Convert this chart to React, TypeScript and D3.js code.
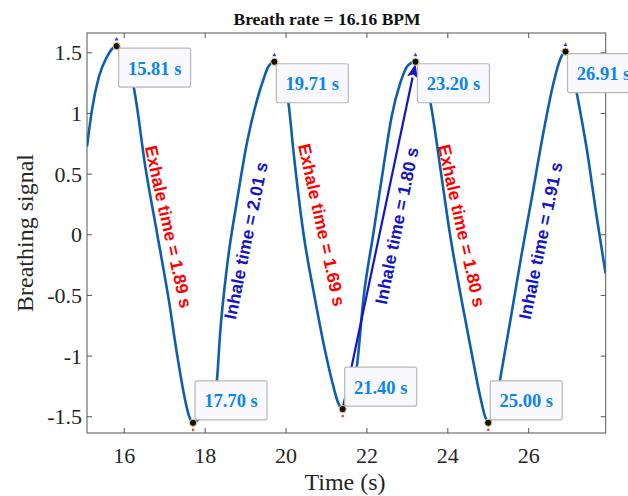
import React from "react";
import * as d3 from "d3";

// ---- data ----
const times = [
  15.078, 15.2, 15.37, 15.57, 15.81, 15.95, 16.08, 16.23, 16.52, 16.81, 17.1, 17.3, 17.47, 17.59, 17.7,
  17.9, 18.1, 18.22, 18.29, 18.37, 18.54, 18.79, 19.03, 19.28, 19.44, 19.56, 19.71,
  19.85, 19.96, 20.06, 20.18, 20.43, 20.72, 20.96, 21.17, 21.29, 21.4,
  21.55, 21.66, 21.75, 21.91, 22.16, 22.41, 22.61, 22.82, 23.02, 23.2,
  23.35, 23.47, 23.56, 23.81, 24.05, 24.34, 24.59, 24.8, 24.92, 25.0,
  25.12, 25.22, 25.29, 25.56, 25.82, 26.09, 26.36, 26.61, 26.77, 26.91,
  27.05, 27.19, 27.44, 27.68, 27.9,
];
const signal = [
  0.726, 1.027, 1.3, 1.467, 1.555, 1.5, 1.39, 1.22, 0.561, 0.012, -0.537, -0.976, -1.305, -1.483, -1.55,
  -1.5, -1.4, -1.3, -1.197, -0.81, -0.262, 0.287, 0.753, 1.108, 1.28, 1.385, 1.426,
  1.36, 1.24, 1.083, 0.698, 0.012, -0.537, -0.948, -1.25, -1.387, -1.437,
  -1.33, -1.22, -1.085, -0.537, 0.012, 0.561, 0.973, 1.247, 1.398, 1.426,
  1.36, 1.24, 1.108, 0.561, 0.012, -0.537, -0.976, -1.332, -1.497, -1.55,
  -1.48, -1.33, -1.197, -0.68, -0.17, 0.33, 0.836, 1.247, 1.439, 1.51,
  1.4, 1.165, 0.698, 0.15, -0.317,
];

const tipTimes = [15.81, 17.7, 19.71, 21.4, 23.2, 25.0, 26.91];
const tipValues = [1.555, -1.55, 1.426, -1.437, 1.426, -1.55, 1.51];
const tipLabels = ["15.81 s", "17.70 s", "19.71 s", "21.40 s", "23.20 s", "25.00 s", "26.91 s"];
const tipIsPeak = [true, false, true, false, true, false, true];

const phaseLabels = [
  "Exhale time = 1.89 s",
  "Inhale time = 2.01 s",
  "Exhale time = 1.69 s",
  "Inhale time = 1.80 s",
  "Exhale time = 1.80 s",
  "Inhale time = 1.91 s",
];
const phaseTimes = [17.09, 19.01, 20.88, 22.74, 24.34, 26.3];
const phaseValues = [0.066, -0.049, 0.081, 0.074, 0.074, -0.049];
const phaseIsExhale = [true, false, true, false, true, false];

const arrowFrom = [21.4, -1.437];
const arrowTo = [23.2, 1.426];

const xTicks = [16, 18, 20, 22, 24, 26];
const yTicks = [-1.5, -1, -0.5, 0, 0.5, 1, 1.5];
const xDomain = [15.078, 27.904];
const yDomain = [-1.634, 1.663];

const titleText = "Breath rate = 16.16 BPM";
const xLabel = "Time (s)";
const yLabel = "Breathing signal";

// ---- layout / style ----
const W = 628;
const H = 496;
const L = 87;
const R = 605.7;
const T = 33;
const B = 433;
const serif = "'Times New Roman', 'Liberation Serif', Times, serif";
const sans = "Arial, 'Liberation Sans', Helvetica, sans-serif";
const lineColor = "#0f5eac";
const tipColor = "#0a84ee";
const exhaleColor = "#ff0000";
const inhaleColor = "#1414c8";
const axisColor = "#555555";
const textColor = "#262626";

export default function App() {
  const x = d3.scaleLinear().domain(xDomain).range([L, R]);
  const y = d3.scaleLinear().domain(yDomain).range([B, T]);

  const pts: [number, number][] = times.map((t, i) => [t, signal[i]]);
  const line = d3
    .line<[number, number]>()
    .x((d) => x(d[0]))
    .y((d) => y(d[1]))
    .curve(d3.curveMonotoneX);

  const tick = 5;

  // arrow
  const ax0 = x(arrowFrom[0]);
  const ay0 = y(arrowFrom[1]);
  const ax1 = x(arrowTo[0]);
  const ay1 = y(arrowTo[1]) + 2;
  const dx = ax1 - ax0;
  const dy = ay1 - ay0;
  const len = Math.hypot(dx, dy);
  const ux = dx / len;
  const uy = dy / len;
  const headLen = 14;
  const headW = 5.5;
  const bx = ax1 - ux * headLen;
  const by = ay1 - uy * headLen;
  const head = [
    [ax1, ay1],
    [bx - uy * headW, by + ux * headW],
    [bx + ux * 3, by + uy * 3],
    [bx + uy * headW, by - ux * headW],
  ]
    .map((p) => p.join(","))
    .join(" ");

  return (
    <svg
      width={W}
      height={H}
      viewBox={`0 0 ${W} ${H}`}
      style={{ position: "absolute", left: 0, top: 0, background: "#ffffff" }}
    >
      <defs>
        <clipPath id="plotclip">
          <rect x={L} y={T - 10} width={R - L} height={B - T + 20} />
        </clipPath>
      </defs>
      <rect x={0} y={0} width={W} height={H} fill="#ffffff" />

      {/* title */}
      <text
        x={327}
        y={25}
        textAnchor="middle"
        fontFamily={serif}
        fontWeight="bold"
        fontSize={17.5}
        fill="#111"
      >
        {titleText}
      </text>

      {/* axes box */}
      <rect x={L} y={T} width={R - L} height={B - T} fill="none" stroke={axisColor} strokeWidth={1} />
      {xTicks.map((t) => (
        <g key={"xt" + t}>
          <line x1={x(t)} x2={x(t)} y1={B} y2={B - tick} stroke={axisColor} />
          <line x1={x(t)} x2={x(t)} y1={T} y2={T + tick} stroke={axisColor} />
          <text
            x={x(t)}
            y={463}
            textAnchor="middle"
            fontFamily={serif}
            fontSize={22}
            fill={textColor}
          >
            {t}
          </text>
        </g>
      ))}
      {yTicks.map((t) => (
        <g key={"yt" + t}>
          <line x1={L} x2={L + tick} y1={y(t)} y2={y(t)} stroke={axisColor} />
          <line x1={R} x2={R - tick} y1={y(t)} y2={y(t)} stroke={axisColor} />
          <text
            x={82}
            y={y(t) + 7.5}
            textAnchor="end"
            fontFamily={serif}
            fontSize={22}
            fill={textColor}
          >
            {String(t)}
          </text>
        </g>
      ))}

      {/* axis labels */}
      <text
        x={345}
        y={490}
        textAnchor="middle"
        fontFamily={serif}
        fontSize={24}
        fill={textColor}
      >
        {xLabel}
      </text>
      <text
        transform={`translate(33, ${(T + B) / 2}) rotate(-90)`}
        textAnchor="middle"
        fontFamily={serif}
        fontSize={24}
        fill={textColor}
      >
        {yLabel}
      </text>

      {/* curve */}
      <g clipPath="url(#plotclip)">
        <path d={line(pts) || ""} fill="none" stroke={lineColor} strokeWidth={2.6} strokeLinejoin="round" />
      </g>

      {/* phase annotations */}
      {phaseLabels.map((lab, i) => {
        const cx = x(phaseTimes[i]);
        const cy = y(phaseValues[i]);
        const ang = phaseIsExhale[i] ? 77.6 : -78.4;
        return (
          <text
            key={"ph" + i}
            transform={`translate(${cx}, ${cy}) rotate(${ang})`}
            textAnchor="middle"
            dominantBaseline="central"
            fontFamily={sans}
            fontWeight="bold"
            fontSize={17.5}
            fill={phaseIsExhale[i] ? exhaleColor : inhaleColor}
          >
            {lab}
          </text>
        );
      })}

      {/* arrow */}
      <line x1={ax0} y1={ay0} x2={bx} y2={by} stroke={inhaleColor} strokeWidth={2.2} />
      <polygon points={head} fill={inhaleColor} />

      {/* data tips */}
      {tipTimes.map((t, i) => {
        const mx = x(t);
        const my = y(tipValues[i]);
        const bw = 72;
        const bh = 39;
        const bx0 = mx + 2;
        const by0 = tipIsPeak[i] ? my + 2 : my - 3 - bh;
        return (
          <g key={"tip" + i}>
            {tipIsPeak[i] ? (
              <path
                d={`M${mx},${my - 9} L${mx - 2},${my - 5.5} L${mx + 2},${my - 5.5} Z`}
                fill="#2a3cff"
              />
            ) : (
              <circle cx={mx} cy={my + 7} r={1.3} fill="#ff3030" />
            )}
            <rect
              x={bx0}
              y={by0}
              width={bw}
              height={bh}
              rx={2}
              fill="#f9f9fd"
              stroke="#b8b8b8"
              strokeWidth={1.2}
            />
            <text
              x={bx0 + bw / 2}
              y={by0 + bh / 2 + 7}
              textAnchor="middle"
              fontFamily={serif}
              fontWeight="bold"
              fontSize={18.5}
              fill={tipColor}
            >
              {tipLabels[i]}
            </text>
            <circle cx={mx} cy={my} r={3.6} fill="#111" stroke="#e6cf7a" strokeWidth={1} />
          </g>
        );
      })}
    </svg>
  );
}
